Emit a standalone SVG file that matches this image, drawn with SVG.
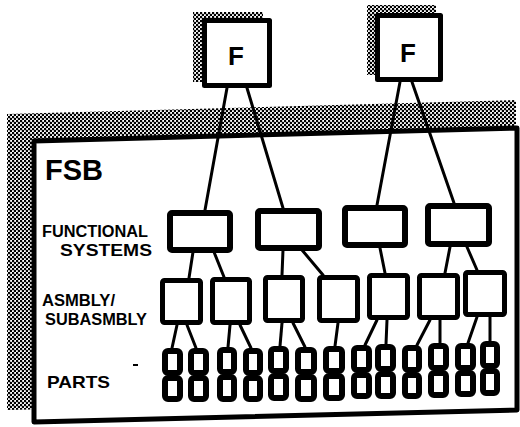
<svg xmlns="http://www.w3.org/2000/svg" width="520" height="427" viewBox="0 0 520 427">
<defs>
<pattern id="ht" width="4" height="4" patternUnits="userSpaceOnUse">
<rect width="4" height="4" fill="#fff"/>
<circle cx="1" cy="1" r="1.3" fill="#000"/>
<circle cx="3" cy="3" r="1.3" fill="#000"/>
</pattern>
</defs>
<style>
.shadow{fill:url(#ht);stroke:none}
.box{fill:#fff;stroke:#000;stroke-linejoin:round}
.f{stroke-width:5}
.fs{stroke-width:6}
.asm{stroke-width:5}
.pt{stroke-width:6}
.frame{fill:#fff;stroke:#000;stroke-width:5;stroke-linejoin:round}
.lbl{font-family:"Liberation Sans",Arial,sans-serif;font-weight:bold;fill:#000}
#connectors line{stroke:#000;stroke-width:3;stroke-linecap:round}
</style>
<rect width="520" height="427" fill="#fff"/>

<g id="fsb">
<polygon class="shadow" points="7,114 516,100 516,400 7,410"/>
<polygon class="frame" points="34,141 517,128 517,410 34,422"/>
<text class="lbl" x="45" y="180" font-size="30" textLength="58" lengthAdjust="spacingAndGlyphs">FSB</text>
<text class="lbl" x="42" y="237" font-size="16" textLength="106" lengthAdjust="spacingAndGlyphs">FUNCTIONAL</text>
<text class="lbl" x="60" y="256" font-size="16" textLength="92" lengthAdjust="spacingAndGlyphs">SYSTEMS</text>
<text class="lbl" x="42" y="306" font-size="16" textLength="73" lengthAdjust="spacingAndGlyphs">ASMBLY/</text>
<text class="lbl" x="45" y="325" font-size="16" textLength="102" lengthAdjust="spacingAndGlyphs">SUBASMBLY</text>
<text class="lbl" x="47" y="388" font-size="17" textLength="63" lengthAdjust="spacingAndGlyphs">PARTS</text>
<line x1="133" y1="365" x2="138" y2="365" stroke="#000" stroke-width="2"/>
</g>

<g id="f1">
<rect class="shadow" x="193" y="12" width="70" height="70"/>
<rect class="box f" x="204.5" y="20.5" width="65" height="65"/>
<text class="lbl" x="236" y="65" font-size="26" text-anchor="middle">F</text>
</g>
<g id="f2">
<rect class="shadow" x="367" y="5" width="69" height="70"/>
<rect class="box f" x="377.5" y="15.5" width="63" height="64"/>
<text class="lbl" x="408" y="62" font-size="26" text-anchor="middle">F</text>
</g>

<g id="connectors">
<line x1="227" y1="88" x2="205" y2="210"/>
<line x1="247" y1="88" x2="283" y2="208"/>
<line x1="400" y1="82" x2="377" y2="205"/>
<line x1="412" y1="82" x2="454" y2="203"/>
<line x1="193" y1="252" x2="189" y2="278"/>
<line x1="214" y1="252" x2="224" y2="277"/>
<line x1="283" y1="250" x2="282" y2="275"/>
<line x1="302" y1="250" x2="323" y2="275"/>
<line x1="380" y1="248" x2="385" y2="273"/>
<line x1="450" y1="247" x2="445" y2="273"/>
<line x1="467" y1="247" x2="477" y2="270"/>
<line x1="177" y1="325" x2="172" y2="348"/>
<line x1="187" y1="325" x2="196" y2="348"/>
<line x1="230" y1="325" x2="228" y2="347"/>
<line x1="240" y1="325" x2="251" y2="348"/>
<line x1="282" y1="323" x2="280" y2="346"/>
<line x1="293" y1="323" x2="305" y2="347"/>
<line x1="338" y1="323" x2="335" y2="346"/>
<line x1="377" y1="320" x2="365" y2="345"/>
<line x1="387" y1="320" x2="386" y2="344"/>
<line x1="430" y1="320" x2="417" y2="345"/>
<line x1="440" y1="320" x2="440" y2="343"/>
<line x1="477" y1="317" x2="468" y2="343"/>
<line x1="490" y1="317" x2="490" y2="341"/>
</g>

<g id="fs1"><rect class="box fs" x="170" y="213" width="60" height="37" rx="2"/></g>
<g id="fs2"><rect class="box fs" x="258" y="211" width="61" height="37" rx="2"/></g>
<g id="fs3"><rect class="box fs" x="345" y="208" width="60" height="37" rx="2"/></g>
<g id="fs4"><rect class="box fs" x="428" y="206" width="61" height="38" rx="2"/></g>

<g id="asm1"><rect class="box asm" x="162.5" y="280.5" width="38" height="42" rx="2"/></g>
<g id="asm2"><rect class="box asm" x="212.5" y="279.5" width="37" height="43" rx="2"/></g>
<g id="asm3"><rect class="box asm" x="265.5" y="277.5" width="37" height="43" rx="2"/></g>
<g id="asm4"><rect class="box asm" x="319.5" y="277.5" width="38" height="43" rx="2"/></g>
<g id="asm5"><rect class="box asm" x="369.5" y="275.5" width="38" height="42" rx="2"/></g>
<g id="asm6"><rect class="box asm" x="419.5" y="275.5" width="38" height="42" rx="2"/></g>
<g id="asm7"><rect class="box asm" x="465.5" y="272.5" width="39" height="42" rx="2"/></g>

<g id="p1"><rect class="box pt" x="165" y="351" width="15" height="22" rx="3"/><rect class="box pt" x="165" y="378" width="15" height="21" rx="3"/></g>
<g id="p2"><rect class="box pt" x="191" y="351" width="15" height="22" rx="3"/><rect class="box pt" x="191" y="378" width="15" height="21" rx="3"/></g>
<g id="p3"><rect class="box pt" x="220" y="350" width="14" height="22" rx="3"/><rect class="box pt" x="220" y="377" width="14" height="22" rx="3"/></g>
<g id="p4"><rect class="box pt" x="246" y="351" width="14" height="22" rx="3"/><rect class="box pt" x="246" y="378" width="14" height="21" rx="3"/></g>
<g id="p5"><rect class="box pt" x="271" y="349" width="15" height="22" rx="3"/><rect class="box pt" x="271" y="376" width="15" height="22" rx="3"/></g>
<g id="p6"><rect class="box pt" x="298" y="350" width="16" height="22" rx="3"/><rect class="box pt" x="298" y="377" width="16" height="22" rx="3"/></g>
<g id="p7"><rect class="box pt" x="326" y="349" width="16" height="22" rx="3"/><rect class="box pt" x="326" y="376" width="16" height="22" rx="3"/></g>
<g id="p8"><rect class="box pt" x="354" y="348" width="15" height="22" rx="3"/><rect class="box pt" x="354" y="375" width="15" height="21" rx="3"/></g>
<g id="p9"><rect class="box pt" x="378" y="347" width="15" height="22" rx="3"/><rect class="box pt" x="378" y="374" width="15" height="22" rx="3"/></g>
<g id="p10"><rect class="box pt" x="405" y="348" width="14" height="22" rx="3"/><rect class="box pt" x="405" y="375" width="14" height="21" rx="3"/></g>
<g id="p11"><rect class="box pt" x="431" y="346" width="15" height="22" rx="3"/><rect class="box pt" x="431" y="373" width="15" height="22" rx="3"/></g>
<g id="p12"><rect class="box pt" x="458" y="346" width="15" height="22" rx="3"/><rect class="box pt" x="458" y="373" width="15" height="21" rx="3"/></g>
<g id="p13"><rect class="box pt" x="483" y="344" width="14" height="22" rx="3"/><rect class="box pt" x="483" y="371" width="14" height="22" rx="3"/></g>
</svg>
